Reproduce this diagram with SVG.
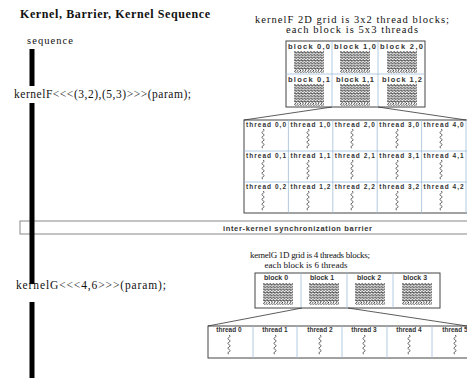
<svg xmlns="http://www.w3.org/2000/svg" xmlns:xlink="http://www.w3.org/1999/xlink" width="467" height="380" viewBox="0 0 467 380">
<style>
.serif{font-family:"Liberation Serif","Times New Roman",serif;fill:#111}
.lbl{font-family:"Liberation Sans",Arial,sans-serif;font-weight:bold;fill:#333}
.outer{fill:#fff;stroke:#444;stroke-width:1}
.div{stroke:#9fbcd8;stroke-width:0.8;fill:none}
.conn{stroke:#333;stroke-width:0.8;fill:none}
.bar{fill:#000}
</style>
<defs>
<pattern id="wave" width="3.2" height="2.7" patternUnits="userSpaceOnUse">
<path d="M0,1.35 Q0.8,0 1.6,1.35 T3.2,1.35" fill="none" stroke="#1a1a1a" stroke-width="0.95"/>
</pattern>
<pattern id="slash" width="2.6" height="3" patternUnits="userSpaceOnUse">
<path d="M0.5,3 L2,0" fill="none" stroke="#1a1a1a" stroke-width="0.85"/>
</pattern>
<path id="sq" d="M0,0 l1.3,1.2 l-2.6,2.4 l2.6,2.4 l-2.6,2.4 l2.6,2.4 l-2.6,2.4 l2.6,2.4 l-2.6,2.4 l1.3,1.2" fill="none" stroke="#444" stroke-width="0.8"/>
<g id="tex">
<rect x="0" y="0" width="30" height="19" fill="url(#wave)"/>
<rect x="0" y="19" width="30" height="3" fill="url(#slash)"/>
</g>
</defs>

<text class="serif" x="20" y="18" font-size="12" font-weight="bold" textLength="190" lengthAdjust="spacing">Kernel, Barrier, Kernel Sequence</text>
<text class="serif" x="27" y="44" font-size="10.5" textLength="46" lengthAdjust="spacing">sequence</text>

<g id="kernelF-call">
<text class="serif" x="14" y="98" font-size="11.5" textLength="177" lengthAdjust="spacing">kernelF&lt;&lt;&lt;(3,2),(5,3)&gt;&gt;&gt;(param);</text>
</g>
<g id="kernelG-call">
<text class="serif" x="16" y="289" font-size="11.5" textLength="150" lengthAdjust="spacing">kernelG&lt;&lt;&lt;4,6&gt;&gt;&gt;(param);</text>
</g>

<g id="kernelF-caption">
<text class="serif" x="352" y="23" font-size="10.5" text-anchor="middle" textLength="194" lengthAdjust="spacing">kernelF 2D grid is 3x2 thread blocks;</text>
<text class="serif" x="352" y="33" font-size="10.5" text-anchor="middle" textLength="132" lengthAdjust="spacing">each block is 5x3 threads</text>
</g>

<g id="kernelF-blocks">
<rect class="outer" x="286" y="41" width="139" height="66"/>
<path class="div" d="M332,41 V107 M378,41 V107 M286,74 H425"/>
<g class="lbl" font-size="7.5">
<text x="288" y="49" textLength="42" lengthAdjust="spacing">block 0,0</text>
<text x="334" y="49" textLength="42" lengthAdjust="spacing">block 1,0</text>
<text x="380" y="49" textLength="43" lengthAdjust="spacing">block 2,0</text>
<text x="288" y="82" textLength="42" lengthAdjust="spacing">block 0,1</text>
<text x="336" y="82" textLength="38" lengthAdjust="spacing">block 1,1</text>
<text x="382" y="82" textLength="40" lengthAdjust="spacing">block 1,2</text>
</g>
<use href="#tex" x="294" y="51"/>
<use href="#tex" x="340" y="51"/>
<use href="#tex" x="387" y="51"/>
<use href="#tex" x="294" y="84"/>
<use href="#tex" x="340" y="84"/>
<use href="#tex" x="387" y="84"/>
</g>

<g id="kernelF-threads">
<rect class="outer" x="244" y="120" width="230" height="93"/>
<path class="div" d="M288.4,120 V213 M332.8,120 V213 M377.2,120 V213 M421.6,120 V213 M466,120 V213 M244,151 H474 M244,182 H474"/>
<g class="lbl" font-size="6.5">
<text x="246" y="127" textLength="40" lengthAdjust="spacing">thread 0,0</text>
<text x="290.4" y="127" textLength="40" lengthAdjust="spacing">thread 1,0</text>
<text x="334.8" y="127" textLength="40" lengthAdjust="spacing">thread 2,0</text>
<text x="379.2" y="127" textLength="40" lengthAdjust="spacing">thread 3,0</text>
<text x="423.6" y="127" textLength="40" lengthAdjust="spacing">thread 4,0</text>
<text x="246" y="158" textLength="40" lengthAdjust="spacing">thread 0,1</text>
<text x="290.4" y="158" textLength="40" lengthAdjust="spacing">thread 1,1</text>
<text x="334.8" y="158" textLength="40" lengthAdjust="spacing">thread 2,1</text>
<text x="379.2" y="158" textLength="40" lengthAdjust="spacing">thread 3,1</text>
<text x="423.6" y="158" textLength="40" lengthAdjust="spacing">thread 4,1</text>
<text x="246" y="189" textLength="40" lengthAdjust="spacing">thread 0,2</text>
<text x="290.4" y="189" textLength="40" lengthAdjust="spacing">thread 1,2</text>
<text x="334.8" y="189" textLength="40" lengthAdjust="spacing">thread 2,2</text>
<text x="379.2" y="189" textLength="40" lengthAdjust="spacing">thread 3,2</text>
<text x="423.6" y="189" textLength="40" lengthAdjust="spacing">thread 4,2</text>
</g>
<use href="#sq" x="263" y="129"/><use href="#sq" x="308" y="129"/><use href="#sq" x="352" y="129"/><use href="#sq" x="397" y="129"/><use href="#sq" x="441" y="129"/>
<use href="#sq" x="263" y="160"/><use href="#sq" x="308" y="160"/><use href="#sq" x="352" y="160"/><use href="#sq" x="397" y="160"/><use href="#sq" x="441" y="160"/>
<use href="#sq" x="263" y="191"/><use href="#sq" x="308" y="191"/><use href="#sq" x="352" y="191"/><use href="#sq" x="397" y="191"/><use href="#sq" x="441" y="191"/>
</g>

<g id="barrier">
<rect x="20" y="221" width="460" height="13" fill="#fff" stroke="#888" stroke-width="1"/>
<text class="lbl" x="223" y="230.5" font-size="7.5" fill="#222" textLength="149" lengthAdjust="spacing">inter-kernel synchronization barrier</text>
</g>

<g id="timeline">
<rect class="bar" x="29.5" y="49" width="5" height="37"/>
<rect class="bar" x="29.5" y="103" width="5" height="181"/>
<rect class="bar" x="29.5" y="302" width="5" height="76"/>
</g>

<g id="kernelG-caption">
<text class="serif" x="310" y="258" font-size="9" text-anchor="middle" textLength="120" lengthAdjust="spacing">kernelG 1D grid is 4 threads blocks;</text>
<text class="serif" x="306" y="268" font-size="9" text-anchor="middle" textLength="83" lengthAdjust="spacing">each block is 6 threads</text>
</g>

<g id="kernelG-blocks">
<rect class="outer" x="255" y="273" width="185" height="35"/>
<path class="div" d="M301,273 V308 M347,273 V308 M393,273 V308"/>
<g class="lbl" font-size="7" text-anchor="middle">
<text x="276" y="280">block 0</text>
<text x="322" y="280">block 1</text>
<text x="369" y="280">block 2</text>
<text x="415" y="280">block 3</text>
</g>
<use href="#tex" x="263" y="283"/>
<use href="#tex" x="309" y="283"/>
<use href="#tex" x="355" y="283"/>
<use href="#tex" x="402" y="283"/>
</g>

<g id="kernelG-threads">
<rect class="outer" x="208" y="326" width="280" height="32"/>
<path class="div" d="M253,326 V358 M297,326 V358 M342,326 V358 M387,326 V358 M432,326 V358"/>
<g class="lbl" font-size="6.5" text-anchor="middle">
<text x="229" y="332">thread 0</text>
<text x="275" y="332">thread 1</text>
<text x="320" y="332">thread 2</text>
<text x="364" y="332">thread 3</text>
<text x="409" y="332">thread 4</text>
<text x="455" y="332">thread 5</text>
</g>
<use href="#sq" x="229" y="335"/><use href="#sq" x="275" y="335"/><use href="#sq" x="320" y="335"/><use href="#sq" x="364" y="335"/><use href="#sq" x="409" y="335"/><use href="#sq" x="455" y="335"/>
</g>

<g id="connectors">
<path class="conn" d="M332,107 L244,120"/>
<path class="conn" d="M378,107 L466,120"/>
<path class="conn" d="M302,308 L208,326"/>
<path class="conn" d="M348,308 L467,326"/>
</g>
</svg>
